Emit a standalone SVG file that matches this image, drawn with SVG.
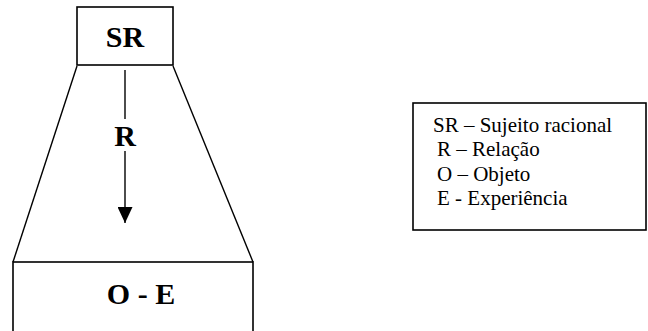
<svg xmlns="http://www.w3.org/2000/svg" width="648" height="331" viewBox="0 0 648 331">
<style>
.box{fill:#fff;stroke:#000;stroke-width:1.6}
.ln{stroke:#000;stroke-width:1.4;fill:none}
.big{font-family:"Liberation Serif","Times New Roman",serif;font-weight:bold;font-size:30px;fill:#000}
.leg{font-family:"Liberation Serif","Times New Roman",serif;font-size:21px;fill:#000}
</style>
<defs>
<marker id="ah" viewBox="0 0 16 15" refX="16" refY="7.5" markerWidth="16" markerHeight="15" markerUnits="userSpaceOnUse" orient="auto">
<path d="M0,0 L16,7.5 L0,15 Z" fill="#000"/>
</marker>
</defs>
<rect width="648" height="331" fill="#fff"/>
<g id="connectors">
<line class="ln" x1="77" y1="66" x2="13" y2="262"/>
<line class="ln" x1="173" y1="66" x2="253" y2="262"/>
<line class="ln" x1="125" y1="70" x2="125" y2="119"/>
<line class="ln" x1="125" y1="151" x2="125" y2="223" marker-end="url(#ah)"/>
<text class="big" x="125" y="146" text-anchor="middle">R</text>
</g>
<g id="node-sr">
<rect class="box" x="77" y="7" width="96" height="58"/>
<text class="big" x="125" y="47" text-anchor="middle">SR</text>
</g>
<g id="node-oe">
<rect class="box" x="13" y="262" width="240" height="90"/>
<text class="big" x="141" y="304" text-anchor="middle">O - E</text>
</g>
<g id="legend">
<rect class="box" x="413" y="103" width="233" height="127"/>
<text class="leg" x="433" y="132">SR – Sujeito racional</text>
<text class="leg" x="437" y="156">R – Relação</text>
<text class="leg" x="437" y="181">O – Objeto</text>
<text class="leg" x="437" y="205">E - Experiência</text>
</g>
</svg>
